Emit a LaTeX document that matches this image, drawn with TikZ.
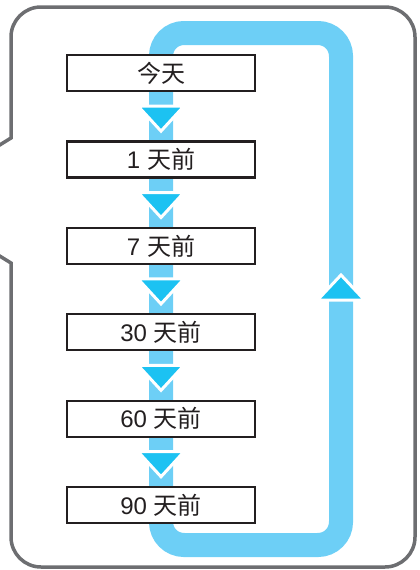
\documentclass[tikz,border=0pt]{standalone}
\usepackage{fontspec}
\setmainfont{Liberation Sans}
\newfontfamily\cjk{Noto Sans CJK SC}
\definecolor{framegray}{HTML}{6D6E71}
\definecolor{loopblue}{HTML}{6DCFF6}
\definecolor{arrowblue}{HTML}{1CC2F2}
\definecolor{boxline}{HTML}{231F20}
\tikzset{
  daybox/.style={draw=boxline, line width=2.2pt, fill=white, minimum width=188pt,
    minimum height=36pt, inner sep=0pt, text=boxline, font=\fontsize{24}{26}\selectfont},
  tri/.style={fill=arrowblue, draw=white, line width=3pt, line join=miter},
  looppath/.style={draw=loopblue, line width=24pt, rounded corners=23pt},
  framepath/.style={draw=framegray, line width=3.5pt, line join=miter}
}
\begin{document}
\begin{tikzpicture}[x=1pt,y=-1pt]
\useasboundingbox (0,0) rectangle (420,570);
\clip (0,0) rectangle (420,570);
% outer frame (speech-bubble outline with a pointer to the left)
\draw[framepath] (-10,151) -- (11,138) -- (11,37)
  arc[start angle=180, end angle=270, radius=30] -- (385,7)
  arc[start angle=270, end angle=360, radius=30] -- (415,537)
  arc[start angle=0, end angle=90, radius=30] -- (41,567)
  arc[start angle=90, end angle=180, radius=30] -- (11,263) -- (-10,250);
% blue loop
\draw[looppath] (161,300) -- (161,33) -- (341,33) -- (341,545) -- (161,545) -- cycle;
% boxes
\foreach \n/\t [count=\i from 0] in {b0/{\cjk 今天}, b1/{1 \cjk 天前}, b2/{7 \cjk 天前}, b3/{30 \cjk 天前}, b4/{60 \cjk 天前}, b5/{90 \cjk 天前}}{
  \node[daybox] (\n) at (161,{73+86.4*\i}) {\t};
}
% down triangles
\foreach \a in {b0, b1, b2, b3, b4}{
  \path (\a.south) ++(0,14) coordinate (\a top);
  \draw[tri] (\a top) ++(-23,0) -- ++(46,0) -- ++(-23,25) -- cycle;
}
% up triangle
\coordinate (up) at (341,300);
\draw[tri] (up) ++(-23.5,0) -- ++(47,0) -- ++(-23.5,-25) -- cycle;
\end{tikzpicture}
\end{document}
